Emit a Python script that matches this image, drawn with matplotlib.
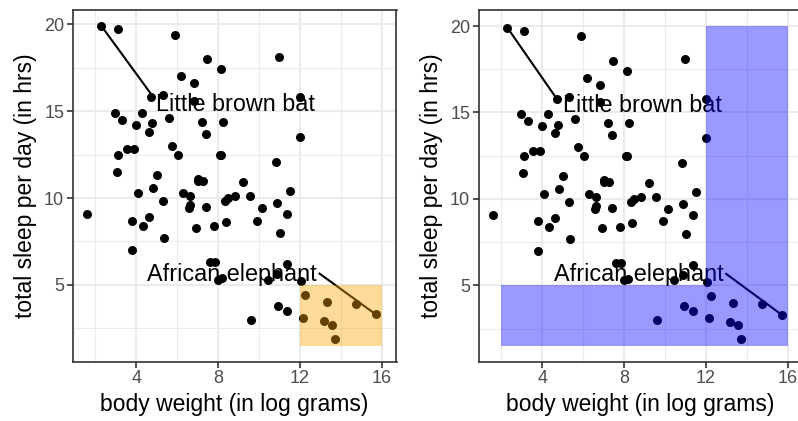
import matplotlib
matplotlib.use("Agg")
import matplotlib.pyplot as plt
from matplotlib.patches import Rectangle

plt.rcParams['font.family'] = ['Liberation Sans', 'DejaVu Sans']

# msleep: body weight (log grams) and total sleep (hrs)
log_bodywt = [10.820, 6.174, 7.208, 2.944, 13.305, 8.256, 9.928, 3.807, 9.547, 9.602,
              10.419, 6.590, 8.466, 6.040, 4.094, 6.908, 1.609, 8.161, 7.990, 7.438,
              14.750, 3.135, 13.163, 12.139, 6.646, 9.210, 4.263, 8.102, 5.298, 13.710,
              13.592, 11.350, 7.873, 11.035, 7.421, 15.711, 5.914, 8.825, 3.970, 4.787,
              3.555, 3.091, 2.303, 5.583, 7.244, 5.347, 3.332, 7.824, 10.924, 10.863,
              11.999, 11.513, 11.992, 10.136, 6.310, 7.003, 3.045, 7.390, 11.362, 10.881,
              7.003, 11.002, 8.189, 5.768, 3.784, 6.611, 4.317, 4.997, 4.804, 6.824,
              4.615, 5.323, 3.871, 11.365, 8.412, 4.718, 12.243, 6.802, 4.644, 12.063,
              7.601, 8.126, 8.350]
sleep_total = [12.1, 17.0, 14.4, 14.9, 4.0, 14.4, 8.7, 7.0, 10.1, 3.0,
               5.3, 9.4, 10.0, 12.5, 10.3, 8.3, 9.1, 17.4, 5.3, 18.0,
               3.9, 19.7, 2.9, 3.1, 10.1, 10.9, 14.9, 12.5, 9.8, 1.9,
               2.7, 6.2, 6.3, 8.0, 9.5, 3.3, 19.4, 10.1, 14.2, 14.3,
               12.8, 12.5, 19.9, 14.6, 11.0, 7.7, 14.5, 8.4, 3.8, 9.7,
               15.8, 10.4, 13.5, 9.4, 10.3, 11.0, 11.5, 13.7, 3.5, 5.6,
               11.1, 18.1, 5.4, 13.0, 8.7, 9.6, 8.4, 11.3, 10.6, 16.6,
               13.8, 15.9, 12.8, 9.1, 8.6, 15.8, 4.4, 15.6, 8.9, 5.2,
               6.3, 12.5, 9.8]

label_names = ["Little brown bat", "African elephant"]
label_points = [(2.303, 19.9), (15.711, 3.3)]

# annotation (label centre, segment end) per panel
left_labels = [((8.85, 15.36), (4.78, 15.9)), ((8.68, 5.61), (12.96, 5.65))]
right_labels = [((8.89, 15.42), (4.65, 15.9)), ((8.72, 5.62), (12.99, 5.67))]

# highlighted regions: (xmin, xmax, ymin, ymax)
left_rects = [(12, 16, 1.5, 5)]
right_rects = [(2, 16, 1.5, 5), (12, 16, 5, 20)]

W, H = 798, 421
fig = plt.figure(figsize=(W / 100, H / 100), dpi=100)

def make_ax(l, r, t, b):
    return fig.add_axes([l / W, 1 - b / H, (r - l) / W, (b - t) / H])

ax1 = make_ax(72.5, 396.5, 10, 361.7)
ax2 = make_ax(478.5, 802.5, 10, 362)

def style(ax, ylim):
    ax.set_xlim(0.89, 16.72)
    ax.set_ylim(*ylim)
    ax.set_xticks([4, 8, 12, 16])
    ax.set_yticks([5, 10, 15, 20])
    ax.set_xticks([2, 6, 10, 14], minor=True)
    ax.set_yticks([2.5, 7.5, 12.5, 17.5], minor=True)
    ax.grid(True, which='major', color='#EBEBEB', linewidth=1.5, zorder=0)
    ax.grid(True, which='minor', color='#EBEBEB', linewidth=0.75, zorder=0)
    ax.set_axisbelow(True)
    for s in ax.spines.values():
        s.set_color('#333333')
        s.set_linewidth(1.2)
    ax.tick_params(which='major', length=4, width=1.2, color='#333333',
                   labelsize=13, labelcolor='#4D4D4D', pad=2)
    ax.tick_params(which='minor', length=0)
    ax.set_xlabel('body weight (in log grams)', fontsize=16.5, color='black', labelpad=4)
    ax.set_ylabel('total sleep per day (in hrs)', fontsize=16.5, color='black', labelpad=5)

def draw(ax, labels, rects, color, ylim):
    style(ax, ylim)
    ax.scatter(log_bodywt, sleep_total, s=42, color='black', linewidths=0, zorder=3)
    for name, (px, py), ((tx, ty), (ex, ey)) in zip(label_names, label_points, labels):
        ax.plot([px, ex], [py, ey], color='black', linewidth=1.5, zorder=4)
        ax.text(tx, ty, name, ha='center', va='center', fontsize=16.8, zorder=5)
    for (x0, x1, y0, y1) in rects:
        ax.add_patch(Rectangle((x0, y0), x1 - x0, y1 - y0, facecolor=color,
                               alpha=0.4, edgecolor='none', zorder=6))

draw(ax1, left_labels, left_rects, 'orange', (0.58, 20.82))
draw(ax2, right_labels, right_rects, 'blue', (0.575, 20.925))

fig.savefig('out.png', dpi=100)
